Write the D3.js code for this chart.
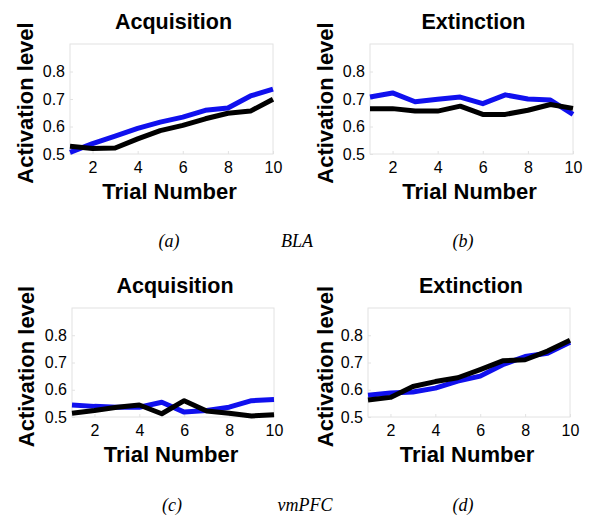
<!DOCTYPE html>
<html><head><meta charset="utf-8">
<script src="https://cdn.jsdelivr.net/npm/d3@7"></script>
<style>
html,body{margin:0;padding:0;background:#fff;}
svg{display:block;}
</style></head>
<body>
<script>
// ---- data ----
const trials = [1,2,3,4,5,6,7,8,9,10];
const yTicks = [0.5,0.6,0.7,0.8];
const xTicks = [2,4,6,8,10];
const titles = ["Acquisition","Extinction","Acquisition","Extinction"];
const captions = [["(a)","BLA","(b)"],["(c)","vmPFC","(d)"]];

const blaAcqBlue  = [0.506,0.538,0.565,0.593,0.616,0.634,0.659,0.667,0.711,0.736];
const blaAcqBlack = [0.528,0.520,0.522,0.555,0.585,0.604,0.628,0.648,0.656,0.699];
const blaExtBlue  = [0.707,0.722,0.690,0.699,0.707,0.683,0.715,0.700,0.696,0.644];
const blaExtBlack = [0.665,0.665,0.656,0.656,0.674,0.644,0.644,0.659,0.680,0.666];
const vmAcqBlue   = [0.544,0.539,0.536,0.536,0.554,0.518,0.524,0.536,0.560,0.564];
const vmAcqBlack  = [0.514,0.524,0.536,0.544,0.512,0.560,0.522,0.514,0.504,0.508];
const vmExtBlue   = [0.580,0.588,0.592,0.606,0.632,0.650,0.692,0.722,0.734,0.774];
const vmExtBlack  = [0.562,0.572,0.612,0.630,0.644,0.674,0.706,0.710,0.742,0.782];

const W = 600, H = 524;
const svg = d3.select("body").append("svg").attr("width",W).attr("height",H);

const panels = [
  {l:70, r:273, t:44, b:154, title:titles[0], blue:blaAcqBlue, black:blaAcqBlack, ylx:33},
  {l:370, r:573, t:44, b:154, title:titles[1], blue:blaExtBlue, black:blaExtBlack, ylx:333},
  {l:72, r:274, t:308, b:417, title:titles[2], blue:vmAcqBlue, black:vmAcqBlack, ylx:34},
  {l:368, r:570, t:308, b:417, title:titles[3], blue:vmExtBlue, black:vmExtBlack, ylx:333}
];

const sans = "'Liberation Sans', Arial, Helvetica, sans-serif";

panels.forEach(p => {
  const x = d3.scaleLinear().domain([1,10]).range([p.l,p.r]);
  const y = d3.scaleLinear().domain([0.5,0.9]).range([p.b,p.t]);
  const g = svg.append("g");

  // frame
  g.append("rect").attr("x",p.l).attr("y",p.t).attr("width",p.r-p.l).attr("height",p.b-p.t)
    .attr("fill","#fff").attr("stroke","#e2e2e2").attr("stroke-width",1);

  // axes (inward ticks, light)
  const ax = g.append("g").attr("transform",`translate(0,${p.b})`)
    .call(d3.axisBottom(x).tickValues(xTicks).tickSizeInner(-3).tickSizeOuter(0).tickPadding(7));
  const ay = g.append("g").attr("transform",`translate(${p.l},0)`)
    .call(d3.axisLeft(y).tickValues(yTicks).tickSizeInner(-3).tickSizeOuter(0).tickPadding(5).tickFormat(d3.format(".1f")));
  [ax,ay].forEach(a=>{
    a.select(".domain").remove();
    a.selectAll(".tick line").attr("stroke","#e2e2e2");
    a.selectAll(".tick text").attr("font-family",sans).attr("font-size",16).attr("fill","#000");
  });
  ax.selectAll(".tick text").attr("dy","0.71em").attr("y",8);

  const line = d3.line().x((d,i)=>x(trials[i])).y(d=>y(d));
  g.append("path").datum(p.blue).attr("d",line).attr("fill","none")
    .attr("stroke","#1010ee").attr("stroke-width",5).attr("stroke-linejoin","round");
  g.append("path").datum(p.black).attr("d",line).attr("fill","none")
    .attr("stroke","#000").attr("stroke-width",5).attr("stroke-linejoin","round");

  // title
  g.append("text").attr("x",(p.l+p.r)/2+2).attr("y",p.t-15).attr("text-anchor","middle")
    .attr("font-family",sans).attr("font-weight","bold").attr("font-size",21.5).attr("fill","#000")
    .text(p.title);
  // x label
  g.append("text").attr("x",(p.l+p.r)/2-2).attr("y",p.b+45).attr("text-anchor","middle")
    .attr("font-family",sans).attr("font-weight","bold").attr("font-size",22).attr("fill","#000")
    .text("Trial Number");
  // y label
  g.append("text").attr("transform",`translate(${p.ylx},${(p.t+p.b)/2+4}) rotate(-90)`)
    .attr("text-anchor","middle")
    .attr("font-family",sans).attr("font-weight","bold").attr("font-size",22).attr("fill","#000")
    .text("Activation level");
});

// captions
const capY = [247, 511];
const capX = [[169,297,463],[172,305,463]];
captions.forEach((row,ri)=>{
  row.forEach((t,ci)=>{
    svg.append("text").attr("x",capX[ri][ci]).attr("y",capY[ri]).attr("text-anchor","middle")
      .attr("font-family","'Liberation Serif', 'Times New Roman', serif").attr("font-style","italic")
      .attr("font-size",18).attr("fill","#000").text(t);
  });
});
</script>
</body></html>
